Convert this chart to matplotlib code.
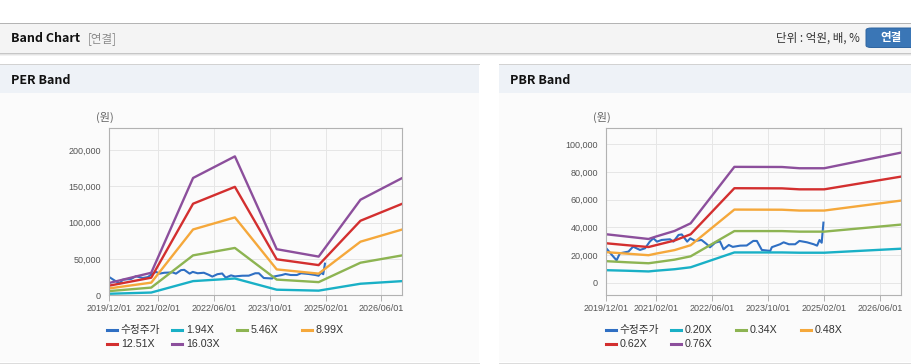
import matplotlib
matplotlib.use("Agg")
import matplotlib.pyplot as plt
import matplotlib.dates as mdates
from matplotlib.patches import Rectangle, FancyBboxPatch
from matplotlib.lines import Line2D
from matplotlib.ticker import FuncFormatter
import pandas as pd

W, H = 912, 364

# adjusted share price (수정주가), shared by both charts
price_dates = ["2019-12-01", "2020-01-15", "2020-02-28", "2020-03-28", "2020-06-10",
               "2020-07-20", "2020-09-18", "2020-11-01", "2020-12-12", "2021-01-12",
               "2021-02-12", "2021-03-25", "2021-06-05", "2021-07-05", "2021-08-18",
               "2021-09-15", "2021-11-01", "2021-11-28", "2022-01-10", "2022-03-05",
               "2022-04-18", "2022-05-18", "2022-07-01", "2022-08-12", "2022-09-12",
               "2022-10-28", "2022-12-01", "2023-02-03", "2023-04-01", "2023-05-28",
               "2023-06-28", "2023-08-10", "2023-10-22", "2023-11-05", "2024-01-15",
               "2024-02-15", "2024-04-01", "2024-05-25", "2024-07-01", "2024-09-05",
               "2024-11-02", "2024-12-01", "2024-12-22", "2025-01-10", "2025-01-25"]
price = [25000, 20500, 16300, 21400, 22600,
         26200, 23800, 25000, 29800, 32200,
         29800, 31000, 31500, 29800, 34600,
         35000, 29800, 32200, 30300, 31000,
         28100, 25700, 29000, 30000, 24300,
         27400, 26000, 26900, 27000, 30300,
         30300, 23800, 23100, 25800, 27900,
         29300, 27900, 27900, 30300, 29300,
         27900, 26900, 31000, 29000, 43500]

# PER band
per_dates = ["2019-12-01", "2020-12-01", "2021-12-01", "2022-12-01", "2023-12-01",
             "2024-12-01", "2025-12-01", "2026-12-01"]
per_194 = [2100, 3800, 19500, 23100, 7700, 6400, 15900, 19500]
per_546 = [5800, 10600, 54900, 65100, 21600, 18100, 44800, 54900]
per_899 = [9500, 17400, 90500, 107100, 35600, 29800, 73700, 90500]
per_1251 = [13300, 24200, 125900, 149100, 49500, 41500, 102500, 125900]
per_1603 = [17000, 31000, 161300, 191000, 63400, 53200, 131400, 161300]
per_labels = ["1.94X", "5.46X", "8.99X", "12.51X", "16.03X"]

# PBR band
pbr_dates = ["2019-12-01", "2020-06-01", "2020-12-01", "2021-02-01", "2021-07-15",
             "2021-12-01", "2022-12-15", "2024-02-01", "2024-07-01", "2025-02-01",
             "2026-12-01"]
pbr_020 = [9200, 8800, 8300, 8800, 9900, 11300, 22000, 22000, 21800, 21800, 24700]
pbr_034 = [15700, 14900, 14200, 14900, 16800, 19200, 37400, 37400, 37000, 37000, 42100]
pbr_048 = [22200, 21100, 20000, 21100, 23700, 27200, 52900, 52800, 52200, 52200, 59400]
pbr_062 = [28600, 27200, 25900, 27200, 30600, 35100, 68300, 68200, 67500, 67500, 76700]
pbr_076 = [35100, 33400, 31700, 33400, 37500, 43000, 83700, 83600, 82700, 82700, 94000]
pbr_labels = ["0.20X", "0.34X", "0.48X", "0.62X", "0.76X"]

tick_dates = ["2019-12-01", "2021-02-01", "2022-06-01", "2023-10-01", "2025-02-01", "2026-06-01"]

price_color = "#2f6fc3"
band_colors = ["#19b0c6", "#8db452", "#f5a83b", "#d32f2f", "#8c4f9c"]

LATIN = ["Liberation Sans", "Noto Sans CJK KR"]
KR = ["Noto Sans CJK KR", "DejaVu Sans"]

fig = plt.figure(figsize=(W / 100, H / 100), dpi=100)
fig.patch.set_facecolor("white")


def fx(x):
    return x / W


def fy(y):
    return 1 - y / H


def rect(x0, y0, x1, y1, color):
    fig.add_artist(Rectangle((fx(x0), fy(y1)), fx(x1) - fx(x0), fy(y0) - fy(y1),
                             transform=fig.transFigure, facecolor=color,
                             edgecolor="none", zorder=-5))


def hline(x0, x1, y, color, lw=1.0):
    fig.add_artist(Line2D([fx(x0), fx(x1)], [fy(y), fy(y)], transform=fig.transFigure,
                          color=color, linewidth=lw * 0.72, zorder=-4))


# header bar
hline(0, W, 22.5, "#b4b4b4")
rect(0, 23, W, 53, "#f4f4f4")
hline(0, W, 53.3, "#c6c6c6")
hline(0, W, 54.3, "#e4e4e4")
hline(0, W, 55.3, "#f2f2f2")
fig.text(fx(11), fy(38.5), "Band Chart", family=KR, fontsize=9, fontweight="bold",
         color="#111111", va="center")
fig.text(fx(88), fy(38.5), "[연결]", family=KR, fontsize=8.3, color="#8a8a8a", va="center")
fig.text(fx(860), fy(38.5), "단위 : 억원, 배, %", family=KR, fontsize=8.3,
         color="#333333", va="center", ha="right")
fig.add_artist(FancyBboxPatch((fx(866), fy(47.5)), fx(60), fy(0) - fy(19.5),
                              boxstyle="round,pad=0,rounding_size=0.006",
                              transform=fig.transFigure, facecolor="#3a76b6",
                              edgecolor="#2e64a0", linewidth=0.7, zorder=-3))
fig.text(fx(891), fy(38), "연결", family=KR, fontsize=8.3, fontweight="bold",
         color="white", va="center", ha="center")

# panel backgrounds
for x0, x1, title in [(0, 479, "PER Band"), (499, W, "PBR Band")]:
    hline(x0, x1, 64.3, "#d2d2d2")
    rect(x0, 65, x1, 93, "#eef2f7")
    rect(x0, 93, x1, 362, "#fbfbfb")
    hline(x0, x1, 362.5, "#dcdcdc")
    fig.text(fx(x0 + 11), fy(80), title, family=KR, fontsize=9, fontweight="bold",
             color="#111111", va="center")


def draw_band(rect_px, band_dates, bands, ymin, ymax, ystep, unit_x):
    left, top, right, bottom = rect_px
    ax = fig.add_axes([fx(left), fy(bottom), fx(right) - fx(left), fy(top) - fy(bottom)])
    ax.patch.set_alpha(0)
    ax.plot(pd.to_datetime(price_dates), price, color=price_color, linewidth=1.5)
    bd = pd.to_datetime(band_dates)
    for vals, c in zip(bands, band_colors):
        ax.plot(bd, vals, color=c, linewidth=1.7)
    ax.set_xlim(pd.Timestamp("2019-12-01"), pd.Timestamp("2026-12-01"))
    ax.set_ylim(ymin, ymax)
    ax.set_xticks(pd.to_datetime(tick_dates))
    ax.xaxis.set_major_formatter(mdates.DateFormatter("%Y/%m/%d"))
    ax.set_yticks(range(0, ymax, ystep))
    ax.yaxis.set_major_formatter(FuncFormatter(lambda v, p: f"{int(v):,}"))
    ax.grid(True, color="#e6e6e6", linewidth=0.7)
    ax.set_axisbelow(True)
    for s in ax.spines.values():
        s.set_color("#b2b2b2")
        s.set_linewidth(0.8)
    ax.tick_params(axis="x", length=4, width=0.7, color="#b2b2b2", pad=2,
                   labelsize=6.5, labelcolor="#555555")
    ax.tick_params(axis="y", length=0, pad=6, labelsize=6.5, labelcolor="#555555")
    for lab in ax.get_xticklabels() + ax.get_yticklabels():
        lab.set_family(LATIN)
    fig.text(fx(unit_x), fy(117), "(원)", family=KR, fontsize=8, color="#666666",
             va="center", ha="center")
    return ax


def draw_legend(x0, labels):
    cols = [x0, x0 + 65, x0 + 130, x0 + 195]
    items = [("수정주가", price_color)] + list(zip(labels, band_colors))
    for i, (lab, c) in enumerate(items):
        x = cols[i % 4]
        y = 330 if i < 4 else 344
        fig.add_artist(Line2D([fx(x), fx(x + 10)], [fy(y), fy(y)], transform=fig.transFigure,
                              color=c, linewidth=2.2))
        fig.text(fx(x + 13.5), fy(y), lab, family=LATIN, fontsize=7.7, color="#333333",
                 va="center")


draw_band((109.3, 128, 402.3, 295.3), per_dates,
          [per_194, per_546, per_899, per_1251, per_1603], 0, 230000, 50000, 105)
draw_legend(107.3, per_labels)

draw_band((606.3, 128.3, 901.3, 295.3), pbr_dates,
          [pbr_020, pbr_034, pbr_048, pbr_062, pbr_076], -8900, 111500, 20000, 601.7)
draw_legend(606.3, pbr_labels)

fig.savefig("out.png", dpi=100)
